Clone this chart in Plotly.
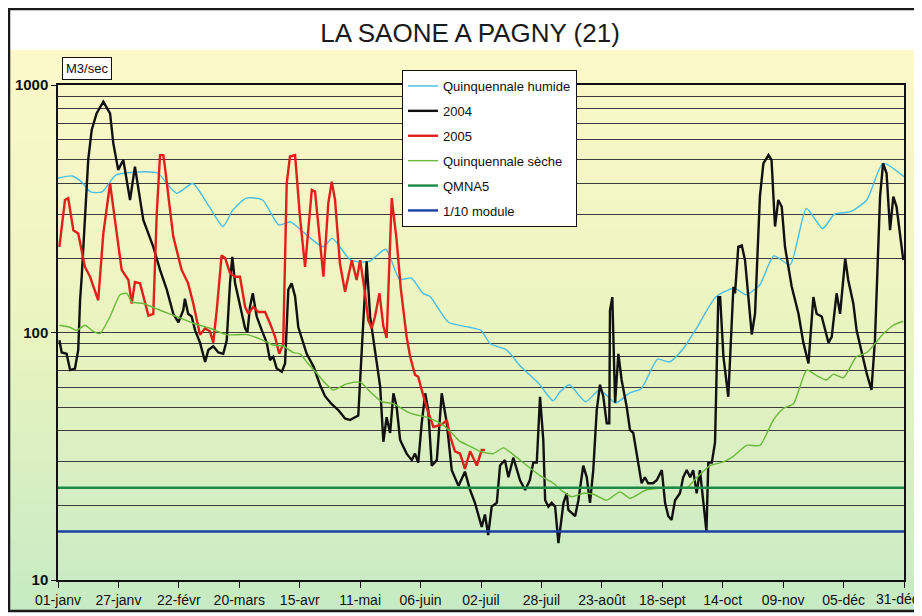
import plotly.graph_objects as go

# ---------------- DATA ----------------
tick_days = [0, 26, 52, 78, 104, 130, 156, 182, 208, 234, 260, 286, 312, 338, 364]
tick_labels = ["01-janv", "27-janv", "22-févr", "20-mars", "15-avr", "11-mai", "06-juin",
               "02-juil", "28-juil", "23-août", "18-sept", "14-oct", "09-nov", "05-déc", "31-déc"]

humide_days = [0, 6, 10, 14, 19, 25, 38, 43, 51, 58, 65, 71, 75, 81, 88, 95, 100, 105, 114,
               118, 126, 134, 141, 147, 152, 157, 160, 168, 177, 182, 186, 193, 199, 207, 213, 216,
               220, 227, 233, 240, 246, 251, 258, 263, 269, 275, 283, 291, 296, 302, 308, 315, 322,
               329, 334, 341, 348, 355, 364]
humide_vals = [420, 429, 407, 370, 370, 433, 446, 440, 365, 400, 323, 268, 310, 349, 343, 272, 280,
               257, 222, 240, 196, 194, 217, 164, 166, 144, 140, 110, 105, 102, 90, 85, 73, 62,
               53, 57.6, 61.5, 52.5, 58.6, 52, 57, 59.4, 78, 76, 86, 105, 139, 151, 142, 156, 204,
               188, 317, 263, 300, 308, 343, 482, 426]

y2004_days = [0.6, 1.6, 3.7, 5.2, 7.3, 8.7, 9.5, 10.2, 13, 14.5, 16.6, 19.5, 22.4, 23.8, 25.9, 28.1,
              31, 33.1, 36.7, 41, 43.9, 46.8, 49.6, 51.8, 53.9, 54.6, 56, 57.5, 59, 61.1, 63.3, 64.7,
              66.8, 69, 71.1, 72.6, 74, 75, 76.2, 78.3, 80.5, 81.5, 82.6, 83.8, 85.5, 87.7, 89.8,
              91.2, 92.6, 94.1, 96.3, 97.7, 99.1, 100.5, 102, 103.4, 105.5, 107, 109.9, 112.7, 114.9,
              117.8, 120.6, 123.5, 125.6, 127.8, 129.2, 130.7, 132.8, 134.3, 136.4, 138.6, 140, 141.4,
              142.9, 144.3, 145.7, 147.2, 150, 152.2, 153.6, 155, 156.5, 158, 159.3, 160.8, 163,
              165.1, 167.3, 169.4, 172.3, 175.1, 177.3, 179.4, 182.3, 183.7, 185.1, 186.6, 188.8,
              190.2, 192.3, 193.8, 195.9, 198.8, 201, 203, 204.5, 206, 207.4, 208.8, 209.6, 211,
              212.4, 213.9, 215.3, 217.5, 218.9, 219.6, 222.5, 223.9, 226, 227.5, 228.9, 230.3,
              231.8, 233.2, 234.6, 236.1, 237.2, 237.5, 238.5, 239.7, 241.1, 242.5, 244.7, 246.1,
              247.5, 249.7, 251.1, 252.5, 253.9, 256, 257.6, 259.8, 261.2, 262.6, 264, 265.5,
              267.6, 269, 270.5, 272, 273.3, 274.8, 276.2, 277.7, 279, 279.8, 281.3, 282.7,
              284.1, 284.9, 286.3, 288.4, 289.9, 290.6, 291.3, 292.7, 294.2, 295.6, 298.5, 299.9,
              302, 303.5, 305.7, 307, 308.5, 309.9, 311.4, 312.8, 315.7, 318.6, 320.7, 322.9, 325,
              326.4, 328.6, 331.5, 332.9, 335, 336.5, 338.7, 340, 342.2, 343.6, 345.8, 348, 350,
              351.5, 353.7, 355, 356.5, 358, 359.4, 360.8, 363.7]
y2004_vals = [93, 83, 82, 70.5, 71.5, 85, 135, 168, 498, 658, 768, 856, 768, 581, 454, 498,
              343, 468, 285, 222, 179, 149, 119, 110, 123, 137, 119, 116, 102, 91, 76, 85,
              88, 83, 82, 93, 158, 202, 158, 127, 104, 100, 127, 144, 116, 102, 91,
              77.4, 79.8, 71.6, 69.4, 75, 149, 158, 140, 105, 91, 82, 73, 61.5, 55.3,
              51.3, 48.6, 44.9, 44.3, 45.5, 46.2, 85, 194, 116, 85, 60.6, 36.2, 45.5,
              39.3, 56.8, 50.2, 36.8, 32.4, 30.5, 32.4, 29.8, 43, 56.8, 48.6, 29, 30.5,
              56.8, 43, 27.8, 24, 27.4, 23.1, 20.5, 16.4, 18.4, 15.2, 19.8, 20.5,
              29, 30.5, 26, 31.2, 25.3, 23.1, 25.3, 29.8, 29.8, 55, 36.8, 21, 19.8,
              20.5, 19.8, 14.1, 20.5, 22.4, 19.2, 18.1, 21, 29, 26, 20.5, 27.8,
              48.6, 61.5, 55.3, 43, 43, 123, 139, 52, 82, 64.3, 50, 40.4,
              39.3, 29, 24.6, 26, 24.6, 24.6, 25.3, 27.8, 20.5, 18.1, 17.5, 21,
              22.4, 26, 27.8, 26, 27.8, 22.4, 27.8, 20.5, 15.7, 29.8, 29.8, 36,
              139, 139, 80, 55, 102, 153, 144, 222, 225, 196, 98, 119,
              354, 482, 521, 498, 268, 343, 322, 222, 153, 119, 91, 75, 139,
              119, 116, 91, 96, 144, 119, 199, 163, 131, 102, 82, 68, 58.6,
              93, 354, 482, 440, 259, 354, 322, 196]

y2005_days = [0.6, 3, 4.4, 6.6, 8.7, 11.6, 13.8, 17.3, 19.5, 22.4, 24.5, 27.4, 30.3, 31.7, 33.1,
              35.3, 38.9, 41, 42.5, 43.9, 45.3, 46, 48.2, 49.6, 53.2, 56, 58.2, 61.1, 63.3, 65.4,
              66.8, 68.3, 70.4, 71.9, 74, 76.2, 78.3, 80.5, 81.9, 84, 86.2, 89.1, 91.2, 93.4,
              95.2, 96.9, 98.4, 99.8, 102, 104.1, 106.3, 109.2, 110.6, 114.2, 116.3, 117.8, 119.2,
              121.3, 123.5, 126.4, 128.5, 130, 132.1, 133.5, 135, 136.4, 138.3, 140, 141.4, 143.6,
              145.7, 147.5, 150, 151.5, 153.6, 155, 156.5, 159.3, 161.5, 163.6, 165.8, 167.3,
              168.7, 170.8, 173, 175.1, 177.3, 178.7, 180.2, 182.3, 183.7]
y2005_vals = [222, 343, 349, 259, 251, 184, 168, 135, 251, 400, 285, 179, 163, 131, 160,
              158, 117, 119, 304, 521, 521, 468, 313, 244, 179, 158, 131, 98, 104, 101,
              91, 123, 205, 200, 174, 168, 168, 127, 119, 127, 121, 121, 109, 96,
              82, 90, 400, 514, 521, 294, 184, 377, 371, 168, 333, 407, 343,
              190, 146, 196, 163, 196, 144, 112, 104, 116, 144, 106, 95, 349,
              236, 150, 96, 80, 67.5, 66.2, 58.6, 47.5, 41.6, 42, 43, 44.3,
              38.1, 33.1, 32.4, 28.1, 33.1, 31.2, 29, 33.5, 33.5]

seche_days = [0.6, 5.2, 8, 11.6, 15.2, 18, 22.4, 26.7, 29.6, 31.7, 36.7, 43.9, 51, 58.2,
              65.4, 72.6, 81.2, 88.3, 92.6, 97, 101.2, 104.1, 107, 111.3, 115, 118.5,
              124.2, 130, 135, 139.3, 144.3, 150, 154.3, 158.6, 164.4, 168.7, 173, 177.3, 181.6,
              187.3, 191.6, 195.9, 201.7, 207.4, 213.1, 217.4, 221, 226, 230.4, 236, 241.8, 246.1,
              253, 259, 265, 270.5, 275, 280.6, 286.3, 290.6, 296.3, 302, 307.8, 312.1,
              316.4, 322.2, 326.4, 330.7, 333.6, 337.9, 343.6, 348, 355.2, 359.4, 363.7]
seche_vals = [107, 105, 102, 107, 101, 99, 116, 142, 144, 133, 131, 123, 116, 109,
              104, 98, 98, 93, 89, 88, 83, 82, 76, 68.5, 62.4, 58.6,
              62, 63, 56.8, 52.5, 51.6, 47.9, 46.4, 45.5, 43, 39.9, 36.3, 34.7, 33.1,
              32.4, 34.2, 32.1, 29, 26.4, 24.6, 22.7, 21.7, 22.4, 22.2, 21, 22.7, 21.4,
              23.1, 23.5, 23.7, 23.6, 26, 29, 30, 31.6, 35, 35, 44.3, 49.3,
              51.5, 70.5, 66.9, 64.3, 67.9, 65.6, 80, 83, 99, 107, 111]

qmna5_value = 23.6
module_1_10_value = 15.7
year_span = [0, 364]

y_grid_minor = [20, 30, 40, 50, 60, 70, 80, 90, 200, 300, 400, 500, 600, 700, 800, 900]
y_major = [10, 100, 1000]

# ---------------- LAYOUT HELPERS ----------------
# The page shows the figure offset by the browser's default 8px body margin,
# so the figure is laid out 8px up/left to land at the reference positions.
W, H = 922, 616
OFF = 8
PL, PR, PT, PB = 58, 904, 85, 580   # plot area, page pixels


def px_x(p):
    return (p - PL) / (PR - PL)


def px_y(p):
    return (PB - p) / (PB - PT)


FONT = "Liberation Sans, Arial, sans-serif"
TICK_FONT = dict(family=FONT, size=14, color="#111111")

fig = go.Figure()

series = [
    ("Quinquennale humide", humide_days, humide_vals, "#4cbde6", 1.4, "spline"),
    ("2004", y2004_days, y2004_vals, "#111111", 2.4, "linear"),
    ("2005", y2005_days, y2005_vals, "#e0201b", 2.4, "linear"),
    ("Quinquennale sèche", seche_days, seche_vals, "#69b83a", 1.4, "spline"),
    ("QMNA5", year_span, [qmna5_value] * 2, "#1d8a45", 2.4, "linear"),
    ("1/10 module", year_span, [module_1_10_value] * 2, "#1c3ea6", 2.4, "linear"),
]
for name, xs, ys, col, w, shape in series:
    line = dict(color=col, width=w, shape=shape)
    if shape == "spline":
        line["smoothing"] = 0.6
    fig.add_trace(go.Scatter(x=xs, y=ys, mode="lines", name=name, line=line,
                             legendgroup=name, hoverinfo="skip"))

# background gradient (yellow -> green) as stacked bands
shapes = []
top_px, bot_px = 50, 611
n = 56
c_top = (252, 248, 202)
c_mid = (234, 244, 192)
c_bot = (198, 234, 196)
for i in range(n):
    t = (i + 0.5) / n
    if t < 0.5:
        a, b, f = c_top, c_mid, t / 0.5
    else:
        a, b, f = c_mid, c_bot, (t - 0.5) / 0.5
    col = tuple(int(round(a[k] + (b[k] - a[k]) * f)) for k in range(3))
    y0 = top_px + (bot_px - top_px) * i / n
    y1 = top_px + (bot_px - top_px) * (i + 1) / n + 0.6
    shapes.append(dict(type="rect", xref="paper", yref="paper", layer="below",
                       x0=px_x(7), x1=px_x(935), y0=px_y(y1), y1=px_y(y0),
                       fillcolor="rgb(%d,%d,%d)" % col, line=dict(width=0)))
# outer chart frame
shapes.append(dict(type="rect", xref="paper", yref="paper", layer="above",
                   x0=px_x(9), x1=px_x(940), y0=px_y(611), y1=px_y(9),
                   line=dict(color="#1a1a1a", width=2.5), fillcolor="rgba(0,0,0,0)"))

# last tick label sits at the right edge: draw it right-aligned so it stays readable
shown_ticktext = tick_labels[:-1] + [""]
last_label = dict(text=tick_labels[-1], xref="x", yref="paper", x=tick_days[-1], y=0,
                  xanchor="right", yanchor="middle", xshift=17, yshift=-19,
                  showarrow=False, font=TICK_FONT)

fig.update_layout(
    width=W, height=H,
    autosize=False,
    margin=dict(l=PL - OFF, r=W - (PR - OFF), t=PT - OFF, b=H - (PB - OFF), autoexpand=False),
    paper_bgcolor="white",
    plot_bgcolor="rgba(0,0,0,0)",
    shapes=shapes,
    showlegend=True,
    title=dict(text="LA SAONE A PAGNY (21)", x=(470 - OFF) / W, xanchor="center",
               y=1 - (33 - OFF) / H, yanchor="middle",
               font=dict(family=FONT, size=26, color="#1a1a1a")),
    legend=dict(x=px_x(402), y=px_y(70), xanchor="left", yanchor="top",
                bgcolor="white", bordercolor="#111111", borderwidth=1,
                font=dict(family=FONT, size=13, color="#111111"),
                tracegroupgap=5, itemwidth=30),
    annotations=[dict(text="M3/sec", xref="paper", yref="paper",
                      x=px_x(87), y=px_y(68.5), xanchor="center", yanchor="middle",
                      showarrow=False,
                      font=dict(family=FONT, size=13, color="#111111"),
                      bgcolor="white", bordercolor="#111111", borderwidth=1, borderpad=3),
                 last_label],
)

fig.update_xaxes(range=[0, 364], tickmode="array", tickvals=tick_days, ticktext=shown_ticktext,
                 automargin=False,
                 showgrid=False, zeroline=False, showline=True, linecolor="#111111",
                 linewidth=1.5, mirror=True, ticks="outside", ticklen=6, tickcolor="#111111",
                 ticklabeloverflow="allow",
                 tickfont=TICK_FONT)

fig.update_yaxes(type="log", range=[1, 3], tickmode="array", tickvals=y_major,
                 ticktext=[str(v) for v in y_major], automargin=False,
                 showgrid=True, gridcolor="#3c3c3c", gridwidth=1,
                 minor=dict(tickmode="array", tickvals=y_grid_minor, showgrid=True,
                            gridcolor="#3c3c3c", gridwidth=1, ticks=""),
                 zeroline=False, showline=True, linecolor="#111111", linewidth=1.5, mirror=True,
                 ticks="outside", ticklen=5, tickcolor="#111111",
                 tickfont=dict(family=FONT, size=15, color="#111111", weight="bold"))

fig.write_html("out.html")
